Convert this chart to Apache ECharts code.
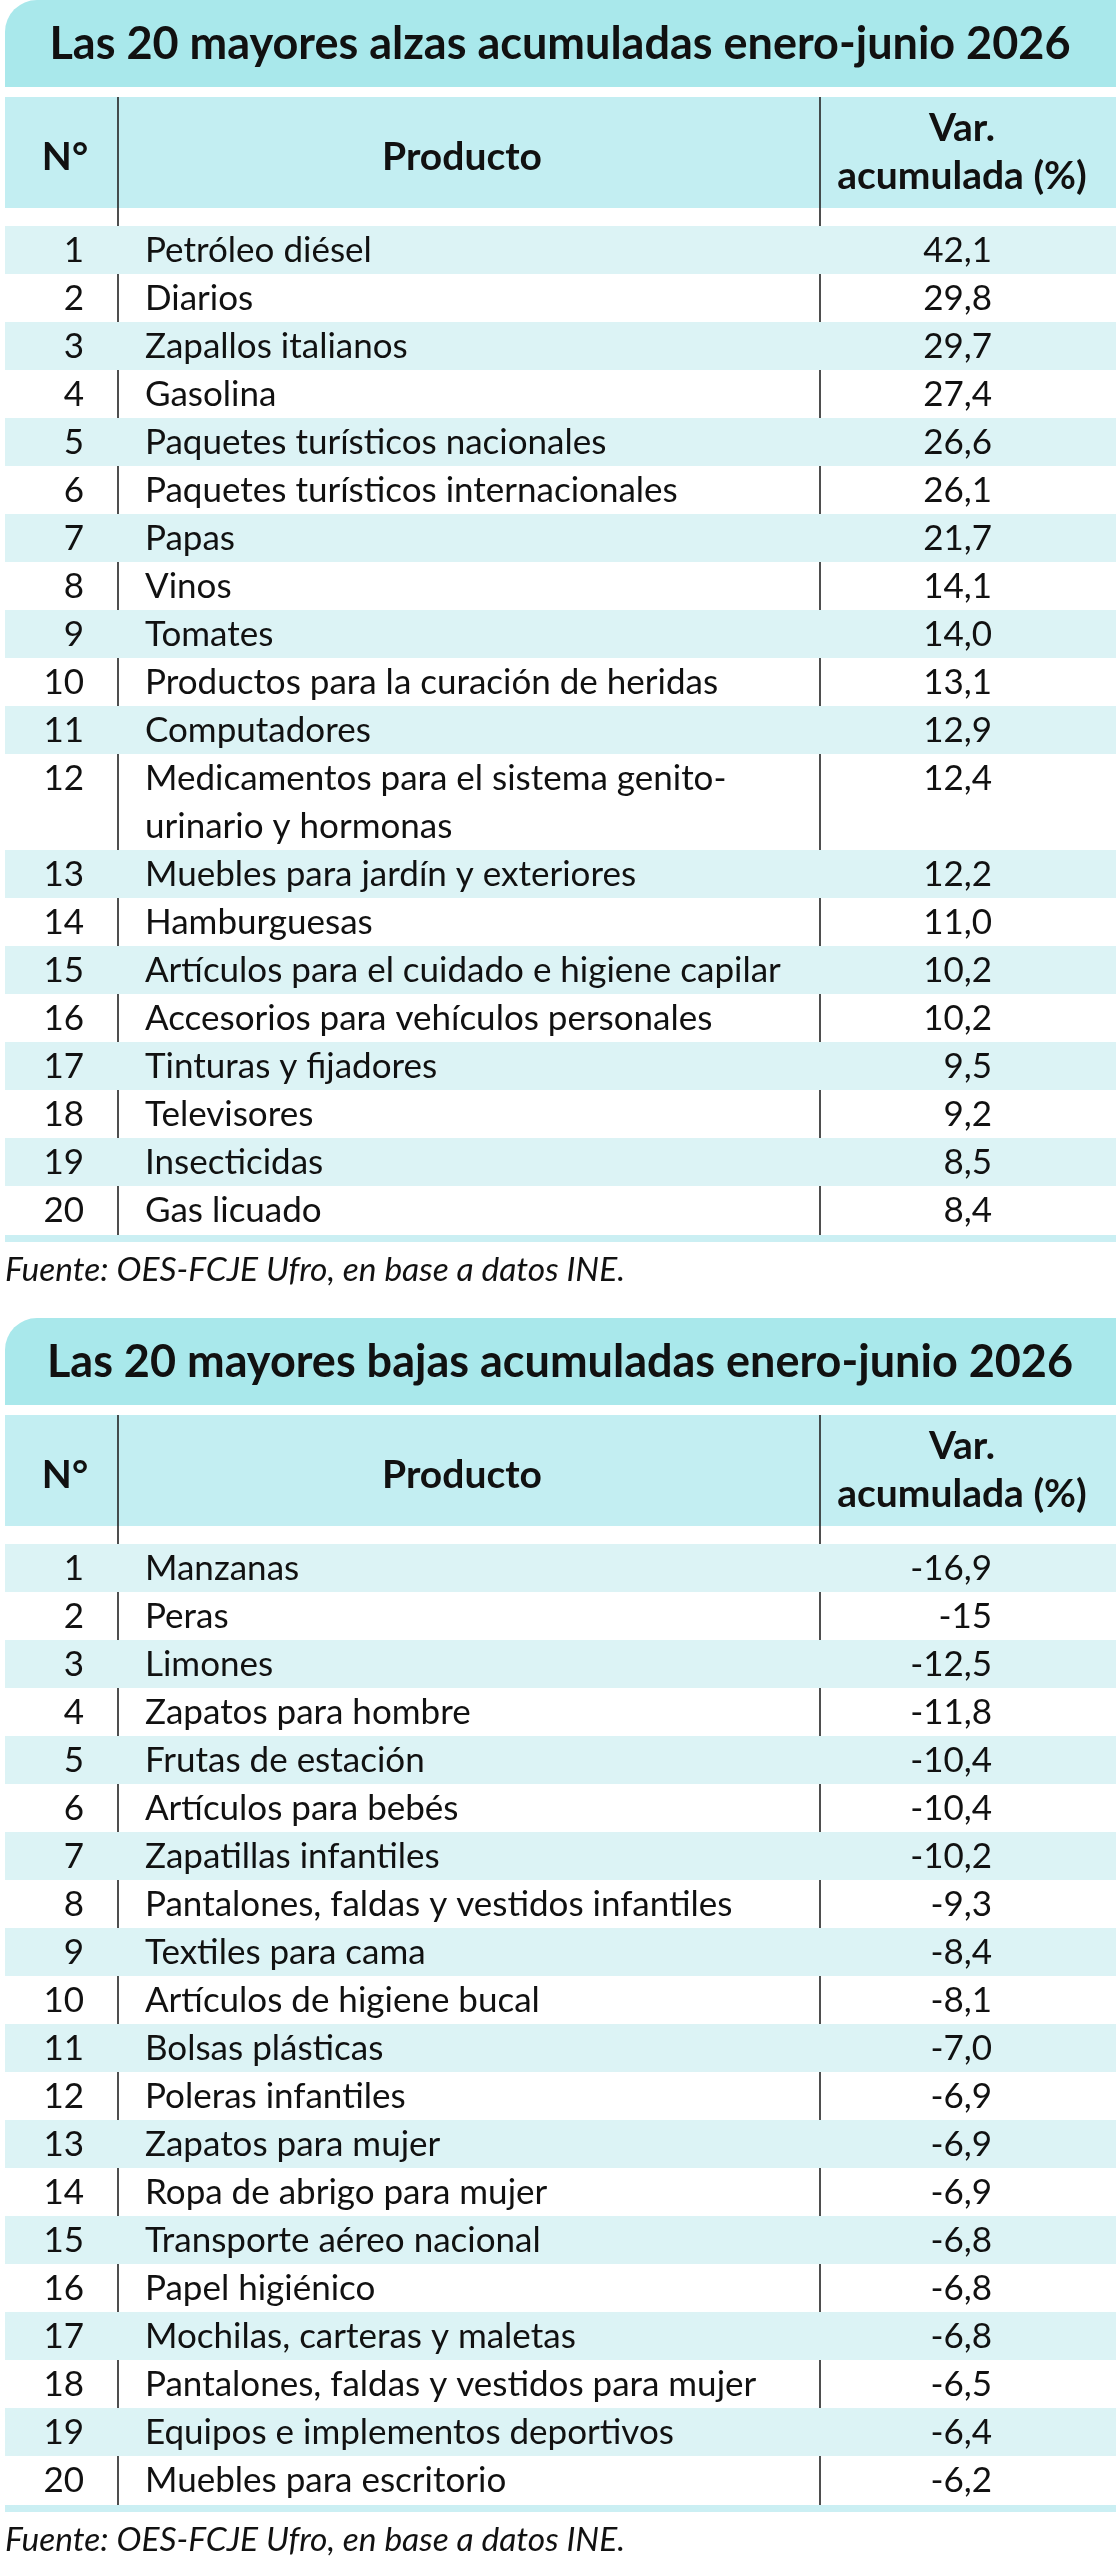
<!DOCTYPE html>
<html>
<head>
<meta charset="utf-8">
<title>Mayores alzas y bajas acumuladas enero-junio 2026</title>
<script src="https://cdn.jsdelivr.net/npm/echarts@6/dist/echarts.min.js"></script>
<style>
  html, body { margin: 0; padding: 0; background: #ffffff; }
  #main { width: 1119px; height: 2560px; }
</style>
</head>
<body>
<div id="main"></div>
<script type="text/javascript">
// datos: alzas
var alzasTitulo = 'Las 20 mayores alzas acumuladas enero-junio 2026';
var alzasProductos = [
    'Petróleo diésel', 'Diarios', 'Zapallos italianos', 'Gasolina',
    'Paquetes turísticos nacionales', 'Paquetes turísticos internacionales',
    'Papas', 'Vinos', 'Tomates', 'Productos para la curación de heridas',
    'Computadores', 'Medicamentos para el sistema genito-\nurinario y hormonas',
    'Muebles para jardín y exteriores', 'Hamburguesas',
    'Artículos para el cuidado e higiene capilar', 'Accesorios para vehículos personales',
    'Tinturas y fijadores', 'Televisores', 'Insecticidas', 'Gas licuado'
];
var alzasValores = [42.1, 29.8, 29.7, 27.4, 26.6, 26.1, 21.7, 14.1, 14.0, 13.1,
                    12.9, 12.4, 12.2, 11.0, 10.2, 10.2, 9.5, 9.2, 8.5, 8.4];
var alzasDecimales = [1, 1, 1, 1, 1, 1, 1, 1, 1, 1, 1, 1, 1, 1, 1, 1, 1, 1, 1, 1];

// datos: bajas
var bajasTitulo = 'Las 20 mayores bajas acumuladas enero-junio 2026';
var bajasProductos = [
    'Manzanas', 'Peras', 'Limones', 'Zapatos para hombre', 'Frutas de estación',
    'Artículos para bebés', 'Zapatillas infantiles',
    'Pantalones, faldas y vestidos infantiles', 'Textiles para cama',
    'Artículos de higiene bucal', 'Bolsas plásticas', 'Poleras infantiles',
    'Zapatos para mujer', 'Ropa de abrigo para mujer', 'Transporte aéreo nacional',
    'Papel higiénico', 'Mochilas, carteras y maletas',
    'Pantalones, faldas y vestidos para mujer', 'Equipos e implementos deportivos',
    'Muebles para escritorio'
];
var bajasValores = [-16.9, -15, -12.5, -11.8, -10.4, -10.4, -10.2, -9.3, -8.4, -8.1,
                    -7.0, -6.9, -6.9, -6.9, -6.8, -6.8, -6.8, -6.5, -6.4, -6.2];
var bajasDecimales = [1, 0, 1, 1, 1, 1, 1, 1, 1, 1, 1, 1, 1, 1, 1, 1, 1, 1, 1, 1];

var encabezados = ['N°', 'Producto', 'Var.\nacumulada (%)'];
var fuente = 'Fuente: OES-FCJE Ufro, en base a datos INE.';

// estilo
var FONT = 'Lato, "Noto Sans", sans-serif';
var C_TITULO = '#a9e8eb';
var C_ENCAB = '#c3eef2';
var C_FRANJA = '#dcf3f5';
var C_BARRA = '#cbeff3';
var ROW_H = 48;
var X_IZQ = 5, X_DER = 1116;
var X_LINEA1 = 118, X_LINEA2 = 820;
var X_NUM = 84, X_PROD = 145, X_VAL = 992;
var FS = 35;

function fmt(v, d) {
    return v.toFixed(d).replace('.', ',');
}

var chart = echarts.init(document.getElementById('main'), null, { renderer: 'canvas' });

var grids = [], xAxes = [], yAxes = [], series = [], graphics = [];

function tabla(idx, offset, titulo, productos, valores, decimales) {
    // filas: inicio y alto (en líneas)
    var filas = [];
    var acum = 0;
    for (var i = 0; i < productos.length; i++) {
        var n = productos[i].split('\n').length;
        filas.push([acum, n, i]);
        acum += n;
    }
    var top = offset + 226;
    var bottom = top + acum * ROW_H;

    grids.push({ left: 0, top: top, width: 1119, height: acum * ROW_H });
    xAxes.push({ type: 'value', gridIndex: idx, min: 0, max: 1119, show: false });
    yAxes.push({ type: 'value', gridIndex: idx, min: 0, max: acum, inverse: true, show: false });

    series.push({
        type: 'custom',
        xAxisIndex: idx,
        yAxisIndex: idx,
        silent: true,
        data: filas,
        renderItem: function (params, api) {
            var ini = api.value(0), n = api.value(1), k = api.value(2);
            var p0 = api.coord([X_IZQ, ini]);
            var p1 = api.coord([X_DER, ini + n]);
            var children = [];
            if (k % 2 === 0) {
                children.push({
                    type: 'rect',
                    shape: { x: p0[0], y: p0[1], width: p1[0] - p0[0], height: p1[1] - p0[1] },
                    style: { fill: C_FRANJA }
                });
            }
            var yc = api.coord([0, ini + 0.5])[1] + 1;
            children.push({
                type: 'text',
                style: { text: String(k + 1), x: api.coord([X_NUM, 0])[0], y: yc,
                    align: 'right', verticalAlign: 'middle',
                    fontFamily: FONT, fontSize: FS, fill: '#111' }
            });
            var lineas = productos[k].split('\n');
            for (var j = 0; j < lineas.length; j++) {
                children.push({
                    type: 'text',
                    style: { text: lineas[j], x: api.coord([X_PROD, 0])[0],
                        y: api.coord([0, ini + j + 0.5])[1] + 1,
                        align: 'left', verticalAlign: 'middle',
                        fontFamily: FONT, fontSize: FS, fill: '#111' }
                });
            }
            children.push({
                type: 'text',
                style: { text: fmt(valores[k], decimales[k]), x: api.coord([X_VAL, 0])[0], y: yc,
                    align: 'right', verticalAlign: 'middle',
                    fontFamily: FONT, fontSize: FS, fill: '#111' }
            });
            return { type: 'group', children: children };
        }
    });

    // banda del título
    graphics.push({
        type: 'rect', shape: { x: X_IZQ, y: offset, width: X_DER - X_IZQ, height: 87, r: [32, 0, 0, 0] },
        style: { fill: C_TITULO }
    });
    graphics.push({
        type: 'text', x: 560, y: offset + 44,
        style: { text: titulo, align: 'center', verticalAlign: 'middle',
            fontFamily: FONT, fontWeight: 'bold', fontSize: 45, fill: '#111' }
    });
    // encabezado
    graphics.push({
        type: 'rect', shape: { x: X_IZQ, y: offset + 97, width: X_DER - X_IZQ, height: 111 },
        style: { fill: C_ENCAB }
    });
    graphics.push({
        type: 'text', x: 65, y: offset + 157,
        style: { text: encabezados[0], align: 'center', verticalAlign: 'middle',
            fontFamily: FONT, fontWeight: 'bold', fontSize: 39, fill: '#111' }
    });
    graphics.push({
        type: 'text', x: 462, y: offset + 157,
        style: { text: encabezados[1], align: 'center', verticalAlign: 'middle',
            fontFamily: FONT, fontWeight: 'bold', fontSize: 39, fill: '#111' }
    });
    graphics.push({
        type: 'text', x: 962, y: offset + 152,
        style: { text: encabezados[2], align: 'center', verticalAlign: 'middle', lineHeight: 48,
            fontFamily: FONT, fontWeight: 'bold', fontSize: 39, fill: '#111' }
    });
    // líneas verticales
    [X_LINEA1, X_LINEA2].forEach(function (x) {
        graphics.push({
            type: 'line', shape: { x1: x, y1: offset + 97, x2: x, y2: bottom + 1 },
            style: { stroke: '#222', lineWidth: 1.6 }
        });
    });
    // barra inferior
    graphics.push({
        type: 'rect', shape: { x: X_IZQ, y: bottom + 1, width: X_DER - X_IZQ, height: 7 },
        style: { fill: C_BARRA }
    });
    // fuente
    graphics.push({
        type: 'text', x: 5, y: bottom + 36,
        style: { text: fuente, align: 'left', verticalAlign: 'middle',
            fontFamily: FONT, fontStyle: 'italic', fontSize: 33.5, fill: '#111' }
    });
}

tabla(0, 0, alzasTitulo, alzasProductos, alzasValores, alzasDecimales);
tabla(1, 1318, bajasTitulo, bajasProductos, bajasValores, bajasDecimales);

chart.setOption({
    backgroundColor: '#ffffff',
    animation: false,
    grid: grids,
    xAxis: xAxes,
    yAxis: yAxes,
    series: series,
    graphic: graphics
});
</script>
</body>
</html>
